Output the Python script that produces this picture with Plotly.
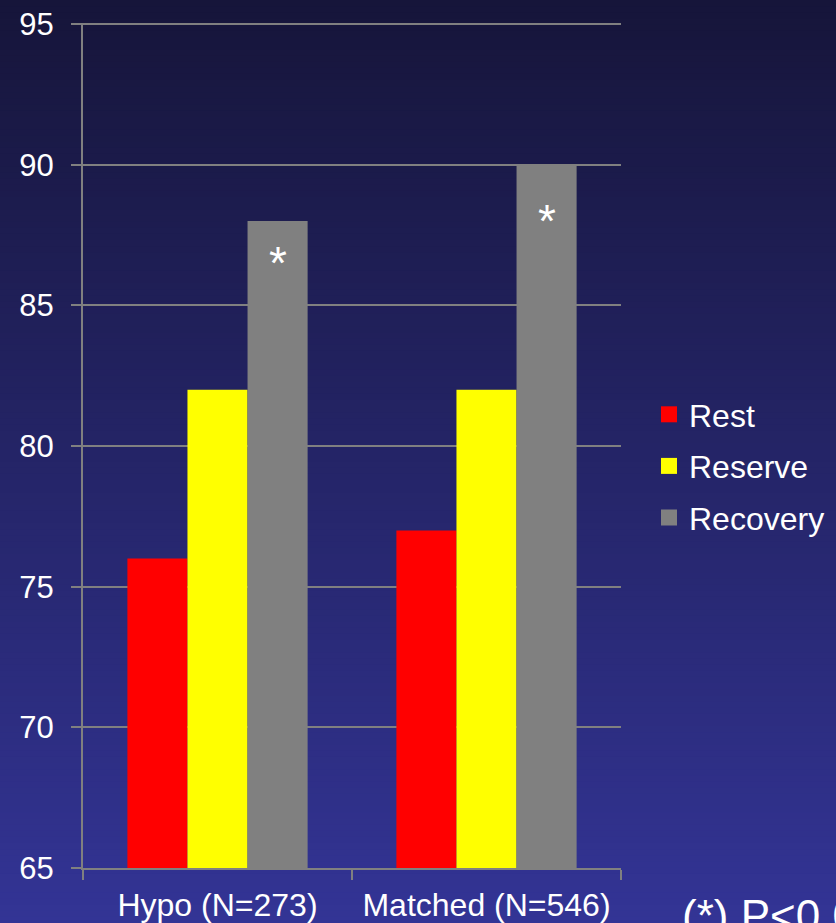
import plotly.graph_objects as go

# Data
groups = ["Hypo (N=273)", "Matched (N=546)"]
series_names = ["Rest", "Reserve", "Recovery"]
rest = [76, 77]
reserve = [82, 82]
recovery = [88, 90]
series_colors = ["#ff0000", "#ffff00", "#808080"]
star_labels = ["*", "*"]
y_ticks = [65, 70, 75, 80, 85, 90, 95]
footnote = "(*) P<0.05"

W, H = 836, 923
M_L, M_R, M_T, M_B = 83, 215, 23, 55
PW, PH = W - M_L - M_R, H - M_T - M_B
FONT = "Liberation Sans, Arial, sans-serif"

fig = go.Figure()
for name, vals, col in zip(series_names, [rest, reserve, recovery], series_colors):
    fig.add_trace(go.Bar(
        name=name, x=groups, y=vals, legendgroup=name, showlegend=False,
        marker=dict(color=col, line=dict(width=0)),
        hoverinfo="x+y+name",
    ))
# Legend entries with larger square swatches
for name, col in zip(series_names, series_colors):
    fig.add_trace(go.Scatter(
        name=name, x=[None], y=[None], mode="markers", legendgroup=name,
        marker=dict(symbol="square", size=17, color=col, line=dict(width=0)),
        hoverinfo="skip",
    ))

# Vertical gradient background built from thin, slightly overlapping strips
top_rgb = (22, 21, 58)
bot_rgb = (51, 52, 149)
n_strips = 150
shapes = []
for i in range(n_strips):
    t = i / (n_strips - 1)
    r = round(top_rgb[0] + (bot_rgb[0] - top_rgb[0]) * t)
    g = round(top_rgb[1] + (bot_rgb[1] - top_rgb[1]) * t)
    b = round(top_rgb[2] + (bot_rgb[2] - top_rgb[2]) * t)
    py0 = i * H / n_strips
    py1 = (i + 1) * H / n_strips + 1.5
    shapes.append(dict(
        type="rect", xref="paper", yref="paper", layer="below",
        x0=-(M_L + 10) / PW, x1=1 + (M_R + 10) / PW,
        y0=(H - M_B - py1) / PH, y1=(H - M_B - py0) / PH,
        fillcolor=f"rgb({r},{g},{b})", line=dict(width=0),
    ))

# Significance markers on the Recovery bars
bar_px = PW / len(groups) * (1 - 0.33) / 3
star_drops = [42, 56]
annotations = []
for g, v, s, d in zip(groups, recovery, star_labels, star_drops):
    annotations.append(dict(
        x=g, y=v, xref="x", yref="y", text=s, showarrow=False,
        xshift=bar_px, yshift=-d, yanchor="middle",
        font=dict(family=FONT, size=46, color="white"),
    ))
annotations.append(dict(
    x=(680 - M_L) / PW, y=-(915 - (H - M_B)) / PH,
    xref="paper", yref="paper", xanchor="left", yanchor="middle",
    text=footnote, showarrow=False,
    font=dict(family=FONT, size=44, color="white"),
))

fig.update_layout(
    width=W, height=H,
    margin=dict(l=M_L, r=M_R, t=M_T, b=M_B, pad=0, autoexpand=False),
    paper_bgcolor="#1d1c4e", plot_bgcolor="rgba(0,0,0,0)",
    barmode="group", bargap=0.33, bargroupgap=0,
    font=dict(family=FONT, size=30, color="white"),
    shapes=shapes, annotations=annotations,
    legend=dict(
        x=(649 - M_L) / PW, xanchor="left",
        y=(H - M_B - 466) / PH, yanchor="middle",
        bgcolor="rgba(0,0,0,0)", font=dict(size=32, color="white"),
        itemwidth=30, tracegroupgap=7, traceorder="grouped",
    ),
    showlegend=True,
)
fig.update_xaxes(
    showgrid=False, showline=True, linecolor="#808080", linewidth=2,
    ticks="outside", tickson="boundaries", ticklen=10, tickcolor="#808080", tickwidth=2,
    tickfont=dict(size=32, color="white"), ticklabelstandoff=8,
    automargin=False, fixedrange=True,
)
fig.update_yaxes(
    range=[65, 95.04], tickvals=y_ticks, showgrid=True, gridcolor="#808080", gridwidth=2,
    showline=True, linecolor="#808080", linewidth=2, zeroline=False,
    ticks="outside", ticklen=10, tickcolor="#808080", tickwidth=2,
    tickfont=dict(size=31, color="white"), ticklabelstandoff=11,
    automargin=False, fixedrange=True,
)

fig.write_html("out.html", config={"displayModeBar": False})
